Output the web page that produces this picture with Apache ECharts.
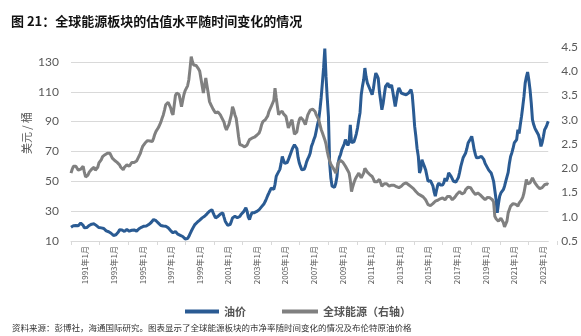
<!DOCTYPE html>
<html>
<head>
<meta charset="utf-8">
<script src="https://cdn.jsdelivr.net/npm/echarts@6/dist/echarts.min.js"></script>
<style>html,body{margin:0;padding:0;background:#fff;}#c{width:581px;height:336px;}</style>
</head>
<body>
<div id="c"></div>
<script>
// Monthly series, Jan 1991 onward
const startYear = 1991;
const oilPrice = [
  19.2,19.6,20.3,21.0,20.4,19.8,20.2,21.0,22.0,22.6,20.5,18.8,
  18.6,19.0,19.6,20.4,21.0,21.3,21.2,21.5,20.9,20.3,19.8,19.0,
  18.6,18.8,18.8,18.4,17.5,16.8,16.4,16.2,15.6,15.2,14.2,13.7,
  14.0,14.2,14.6,16.0,17.5,17.8,17.4,16.6,16.4,17.0,17.7,17.0,
  16.6,17.0,17.2,17.7,17.4,16.8,16.6,16.9,18.2,18.8,19.2,19.8,
  19.9,19.9,20.0,20.8,21.0,21.4,22.4,23.4,24.4,24.0,23.6,23.3,
  22.0,21.0,20.4,19.9,20.0,20.2,19.9,19.6,18.8,17.7,17.0,16.2,
  15.5,15.8,16.4,15.8,14.6,14.0,13.8,13.4,13.0,12.2,11.4,11.0,
  11.6,13.0,14.8,16.5,17.8,19.6,21.0,22.2,22.6,23.3,24.0,25.0,
  25.5,25.8,26.6,27.5,28.2,28.9,30.0,30.6,31.0,29.0,27.2,25.5,
  25.8,26.5,27.2,28.0,28.5,28.9,26.0,23.3,22.0,20.6,19.9,21.0,
  23.0,25.5,26.2,26.6,26.0,25.6,25.5,26.4,27.8,28.5,29.5,30.5,
  32.2,30.0,26.0,24.4,27.0,28.9,29.2,29.0,28.9,29.8,30.5,31.0,
  31.8,33.0,33.8,35.0,36.6,38.5,40.5,42.2,44.0,45.5,46.7,44.5,
  48.0,53.3,55.0,55.6,58.0,62.0,66.7,64.0,62.0,61.2,62.5,64.5,
  66.7,68.0,71.2,73.0,74.5,75.7,72.0,66.0,62.3,60.0,57.8,59.0,
  58.0,60.0,63.0,65.0,66.7,69.0,73.4,75.5,78.0,80.1,84.0,88.0,
  91.3,98.0,106.0,115.8,126.0,139.0,120.3,106.0,93.5,62.0,52.0,46.7,
  45.5,46.0,48.5,53.0,62.3,66.0,68.0,71.2,70.5,75.0,77.9,77.0,
  74.0,76.0,87.9,76.0,75.0,76.5,79.0,82.0,86.0,91.3,96.0,108.0,
  113.6,118.0,125.9,120.0,116.0,115.0,112.0,110.0,108.0,112.0,118.0,122.5,
  121.0,119.0,110.0,104.0,98.0,102.0,108.0,113.6,114.5,115.8,113.0,113.6,
  114.5,110.0,105.0,100.2,105.0,110.0,112.5,111.0,109.1,108.0,108.5,108.0,
  108.0,107.5,109.1,110.0,111.4,108.0,98.0,86.8,80.0,72.0,66.7,55.6,
  58.0,64.5,62.0,60.0,57.8,54.0,50.0,48.9,50.5,51.1,47.0,43.0,
  40.0,44.0,47.5,48.9,47.5,46.7,47.5,49.0,52.2,50.0,52.0,55.6,
  55.0,53.3,52.0,50.0,48.9,49.5,51.1,52.5,56.0,60.0,63.0,66.0,
  67.5,69.0,72.0,75.7,77.0,78.5,80.1,76.0,71.2,68.0,65.7,66.0,
  66.0,66.3,66.7,65.5,64.5,62.0,60.5,59.0,57.5,56.5,55.6,53.0,
  50.0,48.9,38.0,28.9,35.0,40.0,42.2,43.0,44.4,46.7,50.0,53.0,
  56.0,62.0,66.7,69.0,72.0,75.7,76.0,78.0,84.6,82.0,88.0,93.5,
  100.0,106.9,115.8,120.0,123.2,118.0,111.4,102.5,91.3,88.0,85.7,84.0,
  83.4,81.0,78.0,73.4,76.0,80.0,84.6,86.0,88.0,90.2
];
const energyPB = [
  1.90,1.98,2.04,2.02,2.04,2.00,1.96,1.94,1.98,2.02,2.04,1.92,
  1.82,1.80,1.86,1.92,1.94,1.98,2.00,2.02,1.96,1.94,2.02,2.11,
  2.14,2.18,2.24,2.22,2.28,2.30,2.31,2.28,2.31,2.26,2.21,2.18,
  2.16,2.14,2.12,2.08,2.07,2.02,1.99,1.97,2.02,2.05,2.07,2.05,
  2.04,2.08,2.12,2.14,2.12,2.11,2.15,2.20,2.24,2.30,2.38,2.45,
  2.48,2.52,2.55,2.57,2.58,2.56,2.55,2.55,2.62,2.70,2.76,2.80,
  2.84,2.86,2.95,3.03,3.10,3.20,3.31,3.35,3.36,3.38,3.25,3.15,
  3.10,3.30,3.50,3.55,3.54,3.52,3.40,3.27,3.40,3.52,3.60,3.62,
  3.70,3.82,4.05,4.30,4.20,4.13,4.10,4.12,4.10,4.05,4.00,3.96,
  3.70,3.55,3.70,3.86,3.70,3.55,3.38,3.32,3.27,3.22,3.18,3.14,
  3.14,3.16,3.17,3.10,3.05,3.03,2.95,2.85,2.79,2.85,2.90,2.93,
  3.10,3.27,3.20,3.10,3.03,2.85,2.65,2.49,2.52,2.47,2.45,2.44,
  2.42,2.48,2.54,2.59,2.60,2.62,2.62,2.64,2.66,2.68,2.70,2.73,
  2.80,2.90,2.96,2.98,3.00,3.03,3.08,3.17,3.20,3.28,3.34,3.40,
  3.65,3.45,3.27,3.10,3.15,3.14,3.17,3.12,3.10,3.07,2.95,2.83,
  2.85,2.95,3.00,2.85,2.70,2.68,2.75,2.90,3.00,3.05,3.08,3.00,
  2.95,2.90,3.00,3.10,3.14,3.20,3.24,3.22,3.20,3.17,3.10,3.05,
  3.00,2.90,2.80,2.73,2.66,2.59,2.50,2.35,2.24,2.15,2.08,2.04,
  2.00,1.95,1.90,2.00,2.11,2.14,2.16,2.18,2.12,2.08,2.04,2.00,
  1.95,1.90,1.75,1.52,1.62,1.70,1.77,1.82,1.86,1.90,1.85,1.80,
  1.82,1.90,2.00,1.96,1.92,1.90,1.87,1.85,1.83,1.78,1.72,1.70,
  1.72,1.75,1.77,1.70,1.63,1.65,1.68,1.70,1.68,1.65,1.63,1.64,
  1.65,1.66,1.65,1.63,1.62,1.61,1.60,1.61,1.63,1.66,1.68,1.70,
  1.70,1.68,1.66,1.64,1.62,1.60,1.58,1.55,1.52,1.49,1.47,1.46,
  1.44,1.42,1.41,1.39,1.35,1.30,1.25,1.24,1.23,1.22,1.27,1.30,
  1.32,1.33,1.34,1.35,1.37,1.38,1.39,1.37,1.35,1.38,1.42,1.46,
  1.42,1.38,1.35,1.38,1.40,1.42,1.47,1.50,1.52,1.50,1.47,1.46,
  1.50,1.56,1.59,1.61,1.63,1.60,1.56,1.52,1.49,1.46,1.47,1.49,
  1.48,1.45,1.42,1.40,1.38,1.35,1.38,1.40,1.42,1.39,1.36,1.35,
  1.30,1.01,0.96,0.93,0.91,0.94,0.97,0.98,0.88,0.79,0.77,0.91,
  1.08,1.15,1.22,1.25,1.27,1.29,1.26,1.24,1.22,1.28,1.32,1.35,
  1.40,1.49,1.63,1.77,1.68,1.65,1.70,1.73,1.80,1.76,1.70,1.66,
  1.63,1.60,1.58,1.56,1.60,1.62,1.66,1.64,1.68,1.66
];
const tickLabels = ['1991年1月','1993年1月','1995年1月','1997年1月','1999年1月','2001年1月','2003年1月','2005年1月','2007年1月','2009年1月','2011年1月','2013年1月','2015年1月','2017年1月','2019年1月','2021年1月','2023年1月'];
const seriesNames = ['油价','全球能源（右轴）'];
const titleText = '图 21：全球能源板块的估值水平随时间变化的情况';
const sourceText = '资料来源：彭博社，海通国际研究。图表显示了全球能源板块的市净率随时间变化的情况及布伦特原油价格';
const leftAxisName = '美元 / 桶';

const months = oilPrice.map((_, i) => {
  const y = startYear + Math.floor(i / 12);
  return y + '-' + String(i % 12 + 1).padStart(2, '0');
});

const chart = echarts.init(document.getElementById('c'), null, {renderer: 'canvas'});
const numFont = 'Lato';
const cjk = '"Noto Sans CJK SC"';
const legendText = {fontSize: 11, fontWeight: 'bold', color: '#555', fontFamily: cjk};
chart.setOption({
  animation: false,
  backgroundColor: '#fff',
  title: {
    text: titleText, left: 11, top: 15, padding: 0,
    textStyle: {fontSize: 13, fontWeight: 'bold', color: '#111', fontFamily: cjk}
  },
  legend: [
    {left: 185, top: 306, padding: 0, itemWidth: 34, itemHeight: 4, icon: 'rect',
     data: [seriesNames[0]], textStyle: legendText},
    {left: 282, top: 306, padding: 0, itemWidth: 36, itemHeight: 4, icon: 'rect',
     data: [seriesNames[1]], textStyle: legendText}
  ],
  grid: [
    {left: 71, right: 31, top: 47, bottom: 95, containLabel: false},
    {left: 71, width: 486, top: 47, bottom: 95, containLabel: false}
  ],
  xAxis: [
    {type: 'category', gridIndex: 0, data: months, boundaryGap: false,
     axisLine: {show: true, lineStyle: {color: '#d9d9d9', width: 1}},
     axisTick: {show: false}, axisLabel: {show: false}, splitLine: {show: false}},
    {type: 'category', gridIndex: 1, data: tickLabels, boundaryGap: true,
     axisLine: {show: false},
     axisTick: {show: true, length: 4, interval: 0, lineStyle: {color: '#d9d9d9'}},
     axisLabel: {interval: 0, rotate: 90, fontSize: 8, color: '#595959', margin: 5, fontFamily: cjk},
     splitLine: {show: false}}
  ],
  yAxis: [
    {type: 'value', gridIndex: 0, min: 10, max: 140, interval: 20, position: 'left',
     axisLine: {show: false}, axisTick: {show: false},
     axisLabel: {fontSize: 12, color: '#595959', margin: 12, fontFamily: numFont,
       formatter: v => (v > 130 ? '' : String(v))},
     splitLine: {show: true, showMaxLine: false, lineStyle: {color: '#d9d9d9', width: 1}}},
    {type: 'value', gridIndex: 0, min: 0.5, max: 4.5, interval: 0.5, position: 'right',
     axisLine: {show: false}, axisTick: {show: false},
     axisLabel: {fontSize: 12, color: '#595959', margin: 13, fontFamily: numFont,
       formatter: v => v.toFixed(1)},
     splitLine: {show: false}},
    {type: 'value', gridIndex: 1, show: false}
  ],
  graphic: [
    {type: 'text', x: 27, y: 133, rotation: Math.PI / 2,
     style: {text: leftAxisName, fontSize: 11, fill: '#595959', fontFamily: cjk,
       textAlign: 'center', textVerticalAlign: 'middle'}},
    {type: 'text', left: 12, top: 324,
     style: {text: sourceText, fontSize: 8.5, fill: '#333', fontFamily: cjk}}
  ],
  series: [
    {name: seriesNames[0], type: 'line', xAxisIndex: 0, yAxisIndex: 0, data: oilPrice,
     symbol: 'none', lineStyle: {width: 3, color: '#2a5b93'}, itemStyle: {color: '#2a5b93'}},
    {name: seriesNames[1], type: 'line', xAxisIndex: 0, yAxisIndex: 1, data: energyPB,
     symbol: 'none', lineStyle: {width: 3, color: '#808080'}, itemStyle: {color: '#808080'}}
  ]
});
</script>
</body>
</html>
